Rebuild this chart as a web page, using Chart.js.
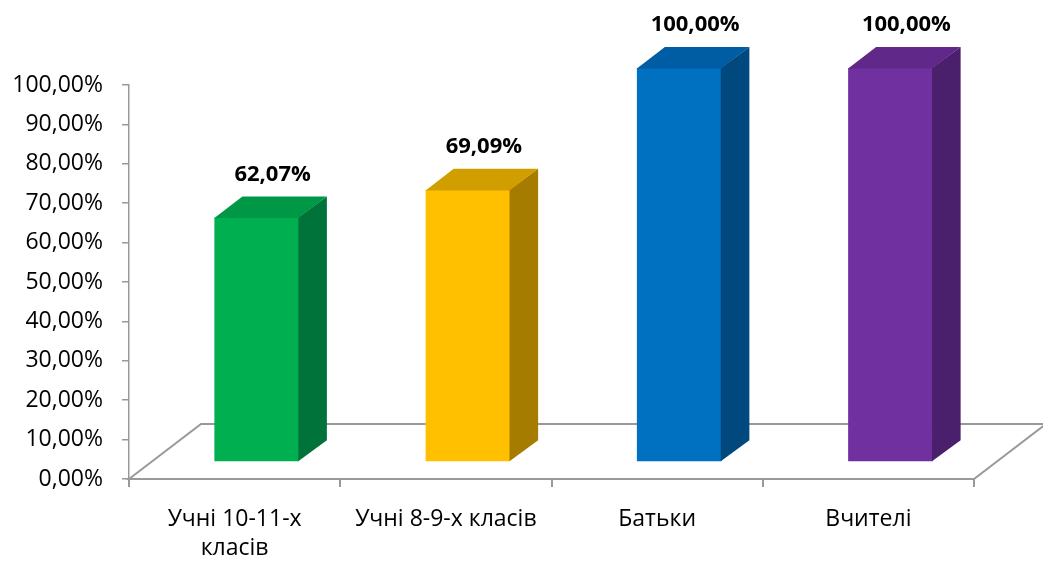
<!DOCTYPE html>
<html>
<head>
<meta charset="utf-8">
<script src="https://cdn.jsdelivr.net/npm/chart.js@4/dist/chart.umd.min.js"></script>
<style>
  body { margin: 0; background: #fff; }
</style>
</head>
<body>
<canvas id="chart" width="1043" height="563"></canvas>
<script>
const categorias = [['Учні 10-11-х', 'класів'], 'Учні 8-9-х класів', 'Батьки', 'Вчителі'];
const valores = [62.07, 69.09, 100, 100];
const coresFrente = ['#00b050', '#ffc000', '#0070c0', '#7030a0'];
const coresTopo = ['#009846', '#d19e00', '#005da3', '#5f2889'];
const coresLado = ['#00733a', '#a67c00', '#00487e', '#4a1f6c'];

// deslocamento do plano das barras e profundidade 3D
const desloc = { x: 22, y: -17 };
const prof = { x: 28, y: -21 };
const chao = { x: 72, y: -55 };

function fmt(v) {
  return v.toFixed(2).replace('.', ',') + '%';
}

const barras3d = {
  id: 'barras3d',
  beforeDatasetsDraw(chart) {
    const ctx = chart.ctx;
    const a = chart.chartArea;
    ctx.save();
    ctx.beginPath();
    ctx.moveTo(a.left, a.bottom);
    ctx.lineTo(a.left + chao.x, a.bottom + chao.y);
    ctx.lineTo(a.right + chao.x, a.bottom + chao.y);
    ctx.lineTo(a.right, a.bottom);
    ctx.closePath();
    ctx.fillStyle = '#fff';
    ctx.fill();
    ctx.strokeStyle = '#999';
    ctx.lineWidth = 2;
    ctx.stroke();
    ctx.restore();
    ctx.save();
    ctx.translate(desloc.x, desloc.y);
  },
  afterDatasetsDraw(chart) {
    const ctx = chart.ctx;
    const meta = chart.getDatasetMeta(0);
    meta.data.forEach((bar, i) => {
      const p = bar.getProps(['x', 'y', 'base', 'width'], true);
      const l = p.x - p.width / 2;
      const r = p.x + p.width / 2;
      const t = p.y;
      const b = p.base;
      // lado
      ctx.beginPath();
      ctx.moveTo(r - 0.6, t);
      ctx.lineTo(r + prof.x, t + prof.y);
      ctx.lineTo(r + prof.x, b + prof.y);
      ctx.lineTo(r - 0.6, b);
      ctx.closePath();
      ctx.fillStyle = coresLado[i];
      ctx.fill();
      // topo
      ctx.beginPath();
      ctx.moveTo(l, t + 0.6);
      ctx.lineTo(l + prof.x, t + prof.y);
      ctx.lineTo(r + prof.x, t + prof.y);
      ctx.lineTo(r - 0.6, t + 0.6);
      ctx.closePath();
      ctx.fillStyle = coresTopo[i];
      ctx.fill();

      ctx.fillStyle = '#000';
      ctx.font = 'bold 22px "Open Sans"';
      ctx.textAlign = 'center';
      ctx.textBaseline = 'middle';
      ctx.fillText(fmt(valores[i]), p.x + prof.x / 2 + 2, t + prof.y - 22);
    });
    ctx.restore();
  }
};

new Chart(document.getElementById('chart'), {
  type: 'bar',
  data: {
    labels: categorias,
    datasets: [{
      data: valores,
      backgroundColor: coresFrente,
      borderWidth: 0,
      barPercentage: 0.4,
      categoryPercentage: 1
    }]
  },
  options: {
    responsive: false,
    animation: false,
    layout: { padding: { top: 85, right: 69, left: 0, bottom: 0 } },
    plugins: {
      legend: { display: false },
      tooltip: { enabled: false }
    },
    scales: {
      x: {
        grid: { drawOnChartArea: false, tickLength: 8, color: '#999', lineWidth: 2 },
        border: { display: true, color: '#999', width: 2 },
        ticks: {
          color: '#000',
          font: { family: 'Open Sans', size: 23, lineHeight: 1.27 },
          padding: 18,
          maxRotation: 0
        },
        afterFit(scale) { scale.height = 84; }
      },
      y: {
        min: 0,
        max: 100,
        grid: { drawOnChartArea: false, tickLength: 7, color: '#999', lineWidth: 1.5 },
        border: { display: true, color: '#999', width: 1.5 },
        ticks: {
          stepSize: 10,
          color: '#000',
          font: { family: 'Open Sans', size: 23 },
          padding: 19,
          callback: v => fmt(v)
        },
        afterFit(scale) { scale.width = 129; }
      }
    }
  },
  plugins: [barras3d]
});
</script>
</body>
</html>
